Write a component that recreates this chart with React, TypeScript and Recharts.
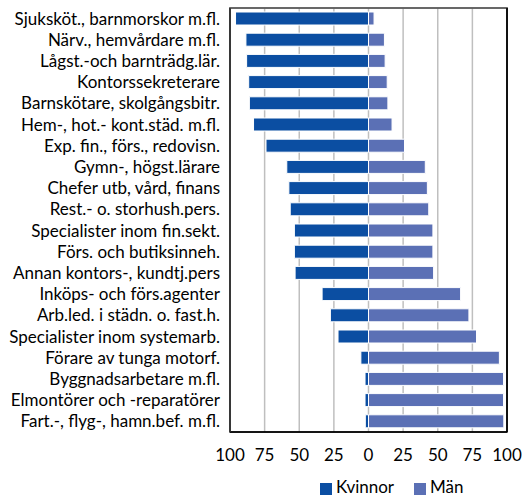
import * as R from "recharts";
import { BarChart, Bar, XAxis, YAxis, CartesianGrid, Legend, ReferenceLine } from "recharts";

const categories = [
  "Sjuksköt., barnmorskor m.fl.",
  "Närv., hemvårdare m.fl.",
  "Lågst.-och barnträdg.lär.",
  "Kontorssekreterare",
  "Barnskötare, skolgångsbitr.",
  "Hem-, hot.- kont.städ. m.fl.",
  "Exp. fin., förs., redovisn.",
  "Gymn-, högst.lärare",
  "Chefer utb, vård, finans",
  "Rest.- o. storhush.pers.",
  "Specialister inom fin.sekt.",
  "Förs. och butiksinneh.",
  "Annan kontors-, kundtj.pers",
  "Inköps- och förs.agenter",
  "Arb.led. i städn. o. fast.h.",
  "Specialister inom systemarb.",
  "Förare av tunga motorf.",
  "Byggnadsarbetare m.fl.",
  "Elmontörer och -reparatörer",
  "Fart.-, flyg-, hamn.bef. m.fl.",
];
const kvinnor = [96, 88.5, 88, 86.5, 86, 83, 74, 59, 57.5, 56.5, 53.5, 53.5, 53, 33.5, 27.5, 22, 5.5, 2.5, 2.5, 2.3];
const man = [4, 11.5, 12, 13.5, 14, 17, 26, 41, 42.5, 43.5, 46.5, 46.5, 47, 66.5, 72.5, 78, 94.5, 97.5, 97.5, 97.7];
const ticks = [-100, -75, -50, -25, 0, 25, 50, 75, 100];

const data = categories.map((name, i) => ({ name, kvinnor: -kvinnor[i], man: man[i] }));

const font = "Lato, 'Open Sans', sans-serif";

// plot-area frame drawn from the chart's own plot area (if the hook exists)
const usePlotArea: any = (R as any).usePlotArea ?? (() => null);

function Frame() {
  const area = usePlotArea();
  if (!area) return null;
  return (
    <rect
      x={area.x}
      y={area.y}
      width={area.width}
      height={area.height}
      fill="none"
      stroke="#1a1a1a"
      strokeWidth={1.5}
    />
  );
}

export default function App() {
  return (
    <div style={{ position: "absolute", left: 0, top: 0, fontFamily: font }}>
      <BarChart
        width={524}
        height={496}
        data={data}
        layout="vertical"
        stackOffset="sign"
        barSize={13}
        margin={{ top: 8, right: 17, bottom: 0, left: 0 }}
      >
        <CartesianGrid horizontal={false} stroke="#bfbfbf" strokeWidth={1.5} />
        <XAxis
          type="number"
          domain={[-100, 100]}
          ticks={ticks}
          tickFormatter={(v) => String(Math.abs(v))}
          axisLine={false}
          tickLine={false}
          tickSize={0}
          tickMargin={17}
          height={34}
          tick={{ fontSize: 17, fill: "#000", fontFamily: font }}
          interval={0}
        />
        <YAxis
          type="category"
          dataKey="name"
          width={230}
          axisLine={false}
          tickLine={false}
          tickSize={0}
          tickMargin={10}
          interval={0}
          tick={{ fontSize: 17, fill: "#000", fontFamily: font }}
        />
        <Legend
          verticalAlign="bottom"
          align="left"
          height={30}
          iconType="square"
          iconSize={12}
          wrapperStyle={{ left: 320, bottom: -10, fontSize: 17 }}
          formatter={(v) => <span style={{ color: "#000", marginRight: 10 }}>{v}</span>}
        />
        <Bar dataKey="kvinnor" name="Kvinnor" stackId="a" fill="#0B4EA2" stroke="#fff" strokeWidth={1} isAnimationActive={false} />
        <Bar dataKey="man" name="Män" stackId="a" fill="#5B70B5" stroke="#fff" strokeWidth={1} isAnimationActive={false} />
        <ReferenceLine y={categories[0]} position="start" stroke="#707070" strokeWidth={1.5} ifOverflow="visible" />
        <ReferenceLine y={categories[categories.length - 1]} position="end" stroke="#000" strokeWidth={1.5} ifOverflow="visible" />
        <ReferenceLine x={-100} stroke="#333" strokeWidth={1.5} ifOverflow="visible" />
        <ReferenceLine x={100} stroke="#000" strokeWidth={1.5} ifOverflow="visible" />
        <Frame />
      </BarChart>
    </div>
  );
}
